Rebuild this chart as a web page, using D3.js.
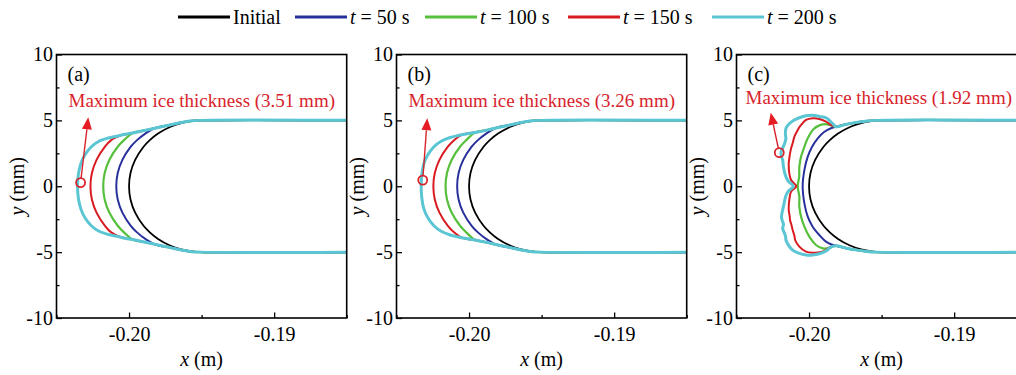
<!DOCTYPE html>
<html><head><meta charset="utf-8">
<script src="https://cdn.jsdelivr.net/npm/d3@7"></script>
<style>
body{margin:0;background:#fff}
svg{display:block}
svg text{font-family:"Liberation Serif",serif !important}
</style>
</head><body>
<svg id="chart" width="1016" height="375" font-family="Liberation Serif"></svg>
<script>
// ---------- DATA ----------
const xDomain = [-0.205, -0.185];
const yDomain = [-10, 10];
const xMajorTicks = [-0.20, -0.19];
const xMinorTicks = [-0.205, -0.195, -0.185];
const yMajorTicks = [-10, -5, 0, 5, 10];
const yMinorTicks = [-7.5, -2.5, 2.5, 7.5];

const seriesNames = ["Initial", "t = 50 s", "t = 100 s", "t = 150 s", "t = 200 s"];
const panelLabels = ["(a)", "(b)", "(c)"];
const maxThickness = [3.51, 3.26, 1.92];

// initial surface (x in m, y in mm)
const initialCurve = [[-0.1845,5],[-0.195,5],[-0.1957,4.95],[-0.1964,4.8],[-0.19718,4.5],[-0.198,4],[-0.19857,3.5],[-0.199,3],[-0.19958,2],[-0.1999,1],[-0.2,0],[-0.1999,-1],[-0.19958,-2],[-0.199,-3],[-0.19857,-3.5],[-0.198,-4],[-0.19718,-4.5],[-0.1964,-4.8],[-0.1957,-4.95],[-0.195,-5],[-0.1845,-5]];

// panel (a)
const a50 = [[-0.1845,5],[-0.1951,5],[-0.1958,4.95],[-0.1965,4.82],[-0.19717,4.65],[-0.1982,4.42],[-0.19888,4],[-0.19945,3.5],[-0.19988,3],[-0.20046,2],[-0.20078,1],[-0.20088,0],[-0.20078,-1],[-0.20046,-2],[-0.19988,-3],[-0.19945,-3.5],[-0.19888,-4],[-0.1982,-4.42],[-0.19717,-4.65],[-0.1965,-4.82],[-0.1958,-4.95],[-0.1951,-5],[-0.1845,-5]];
const a100 = [[-0.1845,5],[-0.1951,5],[-0.1958,4.95],[-0.1965,4.82],[-0.19717,4.65],[-0.198,4.46],[-0.19878,4.27],[-0.19975,4.05],[-0.20035,3.5],[-0.20078,3],[-0.20136,2],[-0.20168,1],[-0.20178,0],[-0.20168,-1],[-0.20136,-2],[-0.20078,-3],[-0.20035,-3.5],[-0.19975,-4.05],[-0.19878,-4.27],[-0.198,-4.46],[-0.19717,-4.65],[-0.1965,-4.82],[-0.1958,-4.95],[-0.1951,-5],[-0.1845,-5]];
const a150 = [[-0.1845,5],[-0.1951,5],[-0.1958,4.95],[-0.1965,4.82],[-0.19717,4.65],[-0.198,4.46],[-0.19878,4.27],[-0.1995,4.1],[-0.2006,3.85],[-0.20123,3.5],[-0.20166,3],[-0.20224,2],[-0.20256,1],[-0.20266,0],[-0.20256,-1],[-0.20224,-2],[-0.20166,-3],[-0.20123,-3.5],[-0.2006,-3.85],[-0.1995,-4.1],[-0.19878,-4.27],[-0.198,-4.46],[-0.19717,-4.65],[-0.1965,-4.82],[-0.1958,-4.95],[-0.1951,-5],[-0.1845,-5]];
const a200 = [[-0.1845,5],[-0.1951,5],[-0.1958,4.95],[-0.1965,4.82],[-0.19717,4.65],[-0.198,4.46],[-0.19878,4.27],[-0.1995,4.1],[-0.20028,3.94],[-0.20085,3.8],[-0.20143,3.66],[-0.2021,3.4],[-0.2026,3.0],[-0.20305,2.37],[-0.20333,1.7],[-0.2035,0.85],[-0.20355,0],[-0.2035,-0.85],[-0.20333,-1.7],[-0.20305,-2.37],[-0.2026,-3.0],[-0.2021,-3.4],[-0.20143,-3.66],[-0.20085,-3.8],[-0.20028,-3.94],[-0.1995,-4.1],[-0.19878,-4.27],[-0.198,-4.46],[-0.19717,-4.65],[-0.1965,-4.82],[-0.1958,-4.95],[-0.1951,-5],[-0.1845,-5]];

// panel (b)
const b50 = [[-0.1845,5],[-0.1951,5],[-0.1958,4.95],[-0.1965,4.82],[-0.19717,4.65],[-0.19815,4.42],[-0.19882,4],[-0.19939,3.5],[-0.19982,3],[-0.2004,2],[-0.20072,1],[-0.20082,0],[-0.20072,-1],[-0.2004,-2],[-0.19982,-3],[-0.19939,-3.5],[-0.19882,-4],[-0.19815,-4.42],[-0.19717,-4.65],[-0.1965,-4.82],[-0.1958,-4.95],[-0.1951,-5],[-0.1845,-5]];
const b100 = [[-0.1845,5],[-0.1951,5],[-0.1958,4.95],[-0.1965,4.82],[-0.19717,4.65],[-0.198,4.46],[-0.1987,4.28],[-0.1996,4.07],[-0.20019,3.5],[-0.20062,3],[-0.2012,2],[-0.20152,1],[-0.20162,0],[-0.20152,-1],[-0.2012,-2],[-0.20062,-3],[-0.20019,-3.5],[-0.1996,-4.07],[-0.1987,-4.28],[-0.198,-4.46],[-0.19717,-4.65],[-0.1965,-4.82],[-0.1958,-4.95],[-0.1951,-5],[-0.1845,-5]];
const b150 = [[-0.1845,5],[-0.1951,5],[-0.1958,4.95],[-0.1965,4.82],[-0.19717,4.65],[-0.198,4.46],[-0.1987,4.28],[-0.1994,4.12],[-0.2005,3.9],[-0.20103,3.5],[-0.20146,3],[-0.20204,2],[-0.20236,1],[-0.20246,0],[-0.20236,-1],[-0.20204,-2],[-0.20146,-3],[-0.20103,-3.5],[-0.2005,-3.9],[-0.1994,-4.12],[-0.1987,-4.28],[-0.198,-4.46],[-0.19717,-4.65],[-0.1965,-4.82],[-0.1958,-4.95],[-0.1951,-5],[-0.1845,-5]];
const b200 = [[-0.1845,5],[-0.1951,5],[-0.1958,4.95],[-0.1965,4.82],[-0.19717,4.65],[-0.198,4.46],[-0.1987,4.28],[-0.1994,4.12],[-0.2002,3.97],[-0.20075,3.85],[-0.2013,3.7],[-0.20192,3.42],[-0.20242,3.0],[-0.20285,2.37],[-0.20312,1.7],[-0.20326,0.85],[-0.2033,0],[-0.20326,-0.85],[-0.20312,-1.7],[-0.20285,-2.37],[-0.20242,-3.0],[-0.20192,-3.42],[-0.2013,-3.7],[-0.20075,-3.85],[-0.2002,-3.97],[-0.1994,-4.12],[-0.1987,-4.28],[-0.198,-4.46],[-0.19717,-4.65],[-0.1965,-4.82],[-0.1958,-4.95],[-0.1951,-5],[-0.1845,-5]];

// panel (c)
const cTopTail = [[-0.1845,5],[-0.19538,5],[-0.1961,4.94],[-0.1968,4.83],[-0.1975,4.68],[-0.19814,4.52]];
const cBottomTail = [[-0.19814,-4.52],[-0.1975,-4.68],[-0.1968,-4.83],[-0.1961,-4.94],[-0.19538,-5],[-0.1845,-5]];
const c50Front = [[-0.19845,4.42],[-0.19894,4.14],[-0.1994,3.64],[-0.19979,3.0],[-0.20009,2.25],[-0.20032,1.24],[-0.20044,0],[-0.20032,-1.3],[-0.20009,-2.31],[-0.19975,-3.07],[-0.19929,-3.7],[-0.19883,-4.2],[-0.19845,-4.42]];
const c100Front = [[-0.19848,4.62],[-0.1989,4.72],[-0.19929,4.62],[-0.1997,4.33],[-0.20009,3.64],[-0.20032,3.0],[-0.20055,2.25],[-0.20067,1.49],[-0.20068,0.73],[-0.20078,0],[-0.20067,-0.79],[-0.20067,-1.55],[-0.20055,-2.31],[-0.20032,-3.07],[-0.19998,-3.83],[-0.19952,-4.46],[-0.19906,-4.72],[-0.1986,-4.68],[-0.19835,-4.55]];
const c150Front = [[-0.19848,4.65],[-0.19883,4.9],[-0.19929,5.11],[-0.19975,5.16],[-0.20021,5.03],[-0.20055,4.65],[-0.20078,4.27],[-0.20101,3.76],[-0.20113,3.26],[-0.20124,2.87],[-0.20131,2.5],[-0.20136,2.12],[-0.2014,1.74],[-0.20136,0.98],[-0.20124,0.47],[-0.20088,0],[-0.20124,-0.41],[-0.20136,-1.04],[-0.2014,-1.8],[-0.20133,-2.3],[-0.20131,-2.56],[-0.2012,-3.0],[-0.20113,-3.32],[-0.201,-3.8],[-0.20096,-4.08],[-0.20067,-4.58],[-0.20021,-4.96],[-0.19975,-5.04],[-0.19929,-5.0],[-0.19894,-4.9],[-0.19848,-4.58]];
const c200Front = [[-0.19837,4.75],[-0.1986,5.0],[-0.19883,5.2],[-0.19929,5.3],[-0.19975,5.38],[-0.20021,5.35],[-0.20067,5.2],[-0.20113,4.95],[-0.2014,4.7],[-0.20159,4.4],[-0.20163,4.0],[-0.2016,3.6],[-0.2017,3.2],[-0.20182,2.9],[-0.20193,2.6],[-0.2019,2.25],[-0.20182,2.0],[-0.20178,1.6],[-0.20172,1.2],[-0.20162,0.8],[-0.20145,0.4],[-0.20108,0],[-0.20145,-0.4],[-0.20162,-0.8],[-0.20172,-1.3],[-0.20182,-1.8],[-0.2019,-2.3],[-0.20185,-2.6],[-0.20176,-2.9],[-0.20182,-3.2],[-0.20172,-3.5],[-0.20162,-3.8],[-0.20159,-4.1],[-0.2014,-4.5],[-0.20113,-4.85],[-0.20067,-5.1],[-0.20021,-5.22],[-0.19975,-5.22],[-0.19929,-5.12],[-0.19883,-4.92],[-0.1985,-4.62]];

// location of maximum ice thickness markers and arrow tips (x in m, y in mm)
const markerPoints = [[-0.20334, 0.28], [-0.20319, 0.47], [-0.20205, 2.55]];
const arrowTips = [[-0.20281, 5.23], [-0.20288, 5.16], [-0.20264, 5.58]];

const panelsData = [
  [initialCurve, a50, a100, a150, a200],
  [initialCurve, b50, b100, b150, b200],
  [initialCurve, [...cTopTail, ...c50Front, ...cBottomTail], [...cTopTail, ...c100Front, ...cBottomTail],
   [...cTopTail, ...c150Front, ...cBottomTail], [...cTopTail, ...c200Front, ...cBottomTail]]
];

// ---------- STYLE / LAYOUT ----------
const FONT = '"Liberation Serif", serif';
const colors = ["#000000", "#28309b", "#56c03c", "#d91a20", "#5ac6d4"];
const widths = [1.8, 2.0, 2.2, 2.0, 3.0];
const annColor = "#d8232c";
const W = 1016, H = 375;
const panelLeft = [56.5, 396.5, 736.5];
const panelTop = 54.5, pw = 290.2, ph = 263.5;

const svg = d3.select("#chart");
svg.append("rect").attr("width", W).attr("height", H).attr("fill", "#fff");

// Legend
const legendLineX = [178, 295, 425, 568, 712];
const legend = svg.append("g");
seriesNames.forEach((name, i) => {
  const lx = legendLineX[i];
  legend.append("line").attr("x1", lx).attr("x2", lx + 52).attr("y1", 17).attr("y2", 17)
    .attr("stroke", colors[i]).attr("stroke-width", 3);
  const t = legend.append("text").attr("x", lx + 55).attr("y", 24).attr("font-size", 20)
    .attr("font-family", FONT).attr("fill", "#000");
  if (name.startsWith("t")) {
    t.append("tspan").attr("font-style", "italic").text("t");
    t.append("tspan").text(name.slice(1));
  } else t.text(name);
});

const x = d3.scaleLinear().domain(xDomain).range([0, pw]);
const y = d3.scaleLinear().domain(yDomain).range([ph, 0]);
const line = d3.line().x(d => x(d[0])).y(d => y(d[1])).curve(d3.curveCatmullRom.alpha(0.5));

panelsData.forEach((curves, p) => {
  const g = svg.append("g").attr("transform", `translate(${panelLeft[p]},${panelTop})`);
  const clipId = "clip" + p;
  g.append("clipPath").attr("id", clipId).append("rect").attr("width", pw).attr("height", ph);

  const plot = g.append("g").attr("clip-path", `url(#${clipId})`);
  curves.forEach((c, i) => {
    plot.append("path").datum(c).attr("d", line).attr("fill", "none")
      .attr("stroke", colors[i]).attr("stroke-width", widths[i])
      .attr("stroke-linejoin", "round").attr("stroke-linecap", "round");
  });

  // axes
  const gx = g.append("g").attr("transform", `translate(0,${ph})`)
    .call(d3.axisBottom(x).tickValues(xMajorTicks).tickFormat(d => d.toFixed(2)).tickSize(-5.5).tickPadding(9));
  gx.select(".domain").remove();
  const gxm = g.append("g").attr("transform", `translate(0,${ph})`)
    .call(d3.axisBottom(x).tickValues(xMinorTicks).tickFormat("").tickSize(-3));
  gxm.select(".domain").remove();
  const gy = g.append("g")
    .call(d3.axisLeft(y).tickValues(yMajorTicks).tickFormat(d => String(d)).tickSize(-5.5).tickPadding(3.5));
  gy.select(".domain").remove();
  const gym = g.append("g").call(d3.axisLeft(y).tickValues(yMinorTicks).tickFormat("").tickSize(-3));
  gym.select(".domain").remove();
  [gx, gxm, gy, gym].forEach(a => {
    a.attr("font-family", FONT).attr("font-size", 20);
    a.selectAll("line").attr("stroke", "#000").attr("stroke-width", 1.3);
    a.selectAll("text").attr("font-size", 20).attr("fill", "#000").attr("font-family", FONT);
  });

  // frame
  g.append("rect").attr("width", pw).attr("height", ph).attr("fill", "none")
    .attr("stroke", "#000").attr("stroke-width", 1.6);

  // axis titles
  const xt = g.append("text").attr("x", pw / 2).attr("y", ph + 48).attr("text-anchor", "middle")
    .attr("font-size", 20).attr("font-family", FONT);
  xt.append("tspan").attr("font-style", "italic").text("x");
  xt.append("tspan").text(" (m)");
  const yt = g.append("text").attr("transform", `translate(${-33},${ph / 2}) rotate(-90)`)
    .attr("text-anchor", "middle").attr("font-size", 20).attr("font-family", FONT);
  yt.append("tspan").attr("font-style", "italic").text("y");
  yt.append("tspan").text(" (mm)");

  // panel label
  g.append("text").attr("x", 11).attr("y", 26).attr("font-size", 20).attr("font-family", FONT).text(panelLabels[p]);

  // annotation
  g.append("text").attr("x", p === 2 ? 9 : 12).attr("y", p === 2 ? 49 : 52)
    .attr("font-size", 19).attr("font-family", FONT).attr("fill", annColor)
    .text(`Maximum ice thickness (${maxThickness[p].toFixed(2)} mm)`);

  const m = markerPoints[p], tp = arrowTips[p];
  const cx = x(m[0]), cy = y(m[1]), tx = x(tp[0]), ty = y(tp[1]);
  const dx = tx - cx, dy = ty - cy, L = Math.hypot(dx, dy), ux = dx / L, uy = dy / L;
  const r = 4.5, headL = 12, headW = 5;
  const bx = tx - ux * headL, by = ty - uy * headL;
  g.append("line").attr("x1", cx + ux * r).attr("y1", cy + uy * r).attr("x2", bx).attr("y2", by)
    .attr("stroke", annColor).attr("stroke-width", 1.4);
  g.append("path").attr("d", `M${tx},${ty}L${bx - uy * headW},${by + ux * headW}L${bx + uy * headW},${by - ux * headW}Z`)
    .attr("fill", "#e51c23");
  g.append("circle").attr("cx", cx).attr("cy", cy).attr("r", r).attr("fill", "none")
    .attr("stroke", annColor).attr("stroke-width", 1.8);
});
</script>
</body></html>
